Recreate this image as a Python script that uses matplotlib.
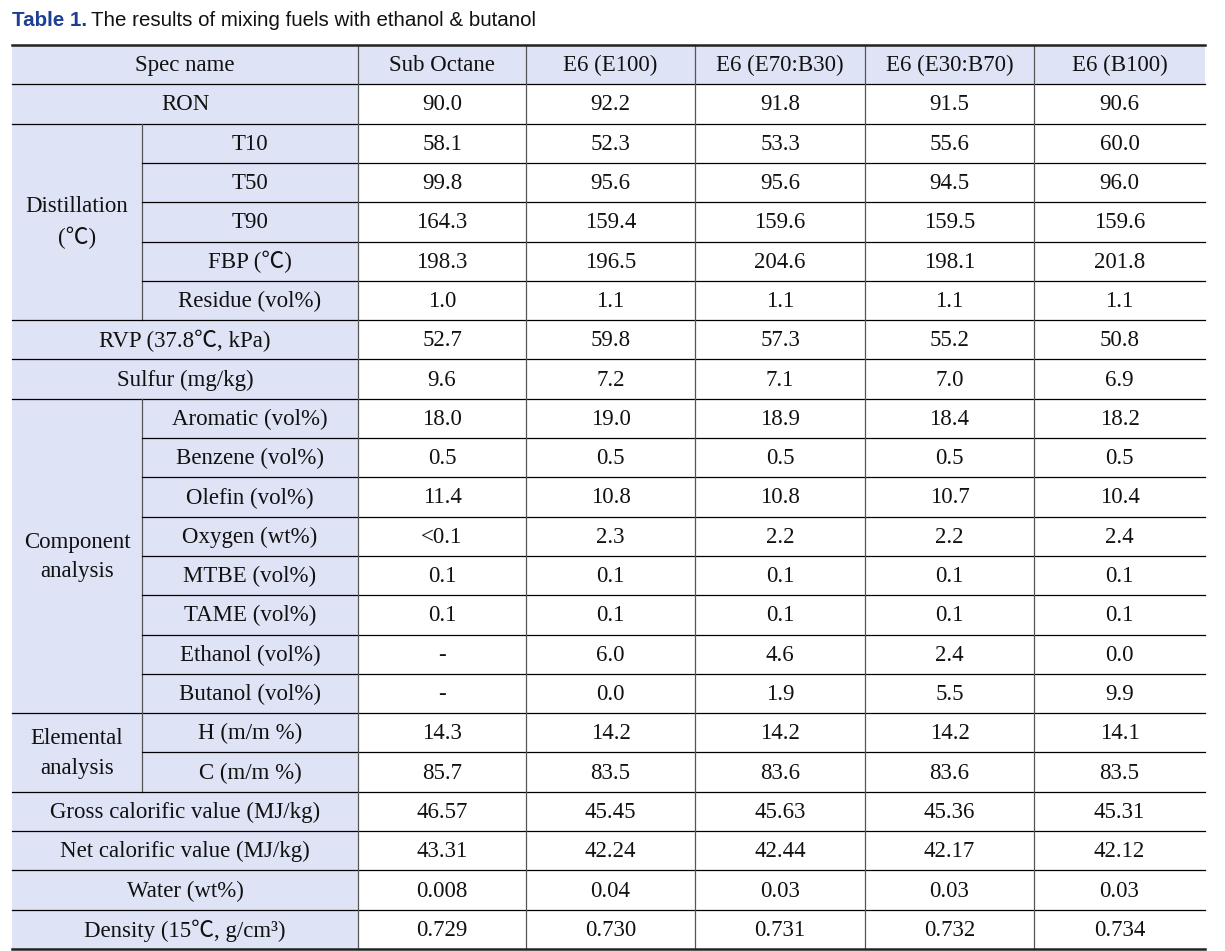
import matplotlib.pyplot as plt

# table content
columns = ["Sub Octane", "E6 (E100)", "E6 (E70:B30)", "E6 (E30:B70)", "E6 (B100)"]

groups = ["", "Distillation\n(℃)", "", "", "Component\nanalysis", "Elemental\nanalysis",
          "", "", "", ""]
group_rows = [
    ["RON"],
    ["T10", "T50", "T90", "FBP (℃)", "Residue (vol%)"],
    ["RVP (37.8℃, kPa)"],
    ["Sulfur (mg/kg)"],
    ["Aromatic (vol%)", "Benzene (vol%)", "Olefin (vol%)", "Oxygen (wt%)",
     "MTBE (vol%)", "TAME (vol%)", "Ethanol (vol%)", "Butanol (vol%)"],
    ["H (m/m %)", "C (m/m %)"],
    ["Gross calorific value (MJ/kg)"],
    ["Net calorific value (MJ/kg)"],
    ["Water (wt%)"],
    ["Density (15℃, g/cm³)"],
]

sub_octane = ["90.0", "58.1", "99.8", "164.3", "198.3", "1.0", "52.7", "9.6",
              "18.0", "0.5", "11.4", "<0.1", "0.1", "0.1", "-", "-",
              "14.3", "85.7", "46.57", "43.31", "0.008", "0.729"]
e100 = ["92.2", "52.3", "95.6", "159.4", "196.5", "1.1", "59.8", "7.2",
        "19.0", "0.5", "10.8", "2.3", "0.1", "0.1", "6.0", "0.0",
        "14.2", "83.5", "45.45", "42.24", "0.04", "0.730"]
e70b30 = ["91.8", "53.3", "95.6", "159.6", "204.6", "1.1", "57.3", "7.1",
          "18.9", "0.5", "10.8", "2.2", "0.1", "0.1", "4.6", "1.9",
          "14.2", "83.6", "45.63", "42.44", "0.03", "0.731"]
e30b70 = ["91.5", "55.6", "94.5", "159.5", "198.1", "1.1", "55.2", "7.0",
          "18.4", "0.5", "10.7", "2.2", "0.1", "0.1", "2.4", "5.5",
          "14.2", "83.6", "45.36", "42.17", "0.03", "0.732"]
b100 = ["90.6", "60.0", "96.0", "159.6", "201.8", "1.1", "50.8", "6.9",
        "18.2", "0.5", "10.4", "2.4", "0.1", "0.1", "0.0", "9.9",
        "14.1", "83.5", "45.31", "42.12", "0.03", "0.734"]
values = [sub_octane, e100, e70b30, e30b70, b100]

# layout in pixels
W, H = 1225, 951
x_edges = [12, 142, 358, 526, 695, 865, 1034, 1205]
top, bottom = 45, 949
n_rows = 1 + sum(len(g) for g in group_rows)
rh = (bottom - top) / n_rows
fill = "#dfe3f6"
serif = ["Liberation Serif", "Noto Sans CJK JP", "DejaVu Serif"]
fs = 16.5

fig = plt.figure(figsize=(W / 100, H / 100), dpi=100)
ax = fig.add_axes([0, 0, 1, 1])
ax.set_xlim(0, W)
ax.set_ylim(H, 0)
ax.axis("off")

def txt(x, y, s, **kw):
    ax.text(x, y + 1, s, ha="center", va="center", fontsize=fs, family=serif,
            color="#111111", linespacing=1.55, **kw)

# header
ax.add_patch(plt.Rectangle((x_edges[0], top), x_edges[-1] - x_edges[0], rh,
                           color=fill, lw=0))
txt((x_edges[0] + x_edges[2]) / 2, top + rh / 2, "Spec name")
for j, c in enumerate(columns):
    txt((x_edges[j + 2] + x_edges[j + 3]) / 2, top + rh / 2, c)
ax.plot([x_edges[0], x_edges[-1]], [top + rh] * 2, color="black", lw=0.9)

r = 1
k = 0
for g, labels in zip(groups, group_rows):
    y0 = top + r * rh
    gh = len(labels) * rh
    ax.add_patch(plt.Rectangle((x_edges[0], y0), x_edges[2] - x_edges[0], gh,
                               color=fill, lw=0))
    if len(labels) > 1:
        txt((x_edges[0] + x_edges[1]) / 2, y0 + gh / 2, g)
        ax.plot([x_edges[1]] * 2, [y0, y0 + gh], color="#555555", lw=0.9)
    for i, lab in enumerate(labels):
        yc = y0 + (i + 0.5) * rh
        if len(labels) > 1:
            txt((x_edges[1] + x_edges[2]) / 2, yc, lab)
        else:
            txt((x_edges[0] + x_edges[2]) / 2, yc, lab)
        for j in range(len(columns)):
            txt((x_edges[j + 2] + x_edges[j + 3]) / 2, yc, values[j][k])
        yb = y0 + (i + 1) * rh
        if i < len(labels) - 1:
            ax.plot([x_edges[1], x_edges[-1]], [yb] * 2, color="black", lw=0.9)
        k += 1
    if r + len(labels) < n_rows:
        ax.plot([x_edges[0], x_edges[-1]], [y0 + gh] * 2, color="black", lw=0.9)
    r += len(labels)

# vertical dividers
for x in x_edges[2:-1]:
    ax.plot([x, x], [top, bottom], color="#555555", lw=0.9)

# top and bottom rules
ax.plot([x_edges[0], x_edges[-1]], [top, top], color="#222222", lw=1.8)
ax.plot([x_edges[0], x_edges[-1]], [bottom, bottom], color="#222222", lw=1.8)

# title
t1 = ax.text(12, 20, "Table 1.", ha="left", va="center", fontsize=14.8,
             family="Liberation Sans", fontweight="bold", color="#1c3f94")
fig.canvas.draw()
bb = t1.get_window_extent()
ax.text(bb.x1 + 4, 20, "The results of mixing fuels with ethanol & butanol",
        ha="left", va="center", fontsize=14.8, family="Liberation Sans",
        color="#111111")

fig.savefig("out.png", dpi=100)
